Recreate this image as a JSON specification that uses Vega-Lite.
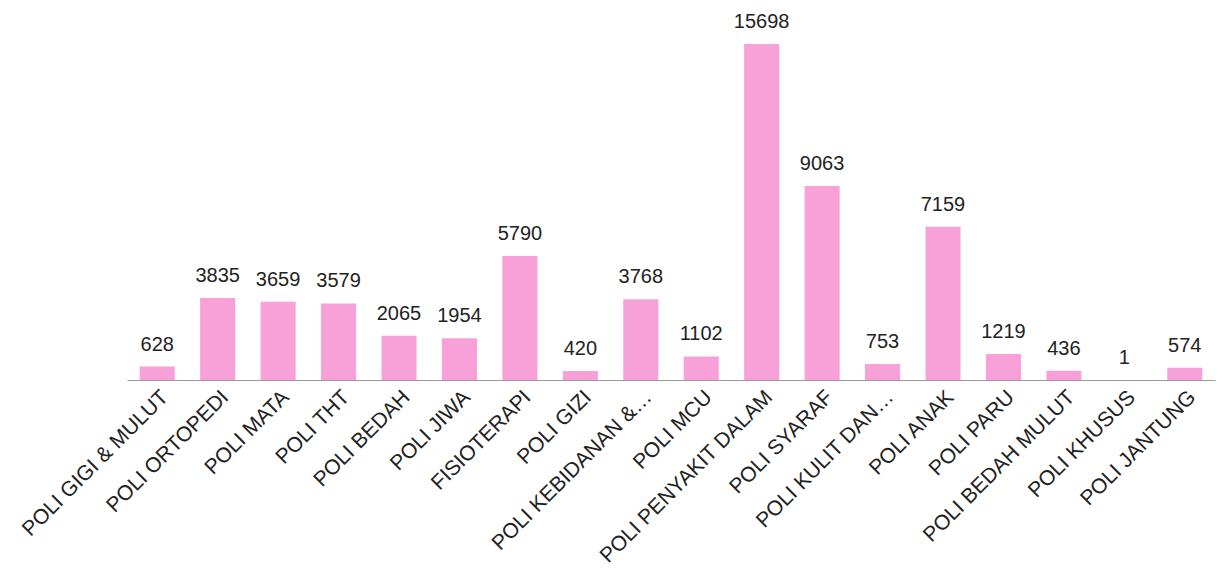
{
  "$schema": "https://vega.github.io/schema/vega-lite/v6.json",
  "autosize": "none",
  "width": 1088,
  "height": 336,
  "padding": {"left": 127, "top": 44, "right": 6, "bottom": 197},
  "background": "white",
  "config": {"view": {"stroke": null}, "font": "Liberation Sans"},
  "data": {"values": [
    {"poli": "POLI GIGI & MULUT", "n": 628},
    {"poli": "POLI ORTOPEDI", "n": 3835},
    {"poli": "POLI MATA", "n": 3659},
    {"poli": "POLI THT", "n": 3579},
    {"poli": "POLI BEDAH", "n": 2065},
    {"poli": "POLI JIWA", "n": 1954},
    {"poli": "FISIOTERAPI", "n": 5790},
    {"poli": "POLI GIZI", "n": 420},
    {"poli": "POLI KEBIDANAN &…", "n": 3768},
    {"poli": "POLI MCU", "n": 1102},
    {"poli": "POLI PENYAKIT DALAM", "n": 15698},
    {"poli": "POLI SYARAF", "n": 9063},
    {"poli": "POLI KULIT DAN…", "n": 753},
    {"poli": "POLI ANAK", "n": 7159},
    {"poli": "POLI PARU", "n": 1219},
    {"poli": "POLI BEDAH MULUT", "n": 436},
    {"poli": "POLI KHUSUS", "n": 1},
    {"poli": "POLI JANTUNG", "n": 574}
  ]},
  "encoding": {
    "x": {"field": "poli", "type": "nominal", "sort": null,
      "scale": {"paddingInner": 0.42, "paddingOuter": 0.21},
      "axis": {"title": null, "labelAngle": -45, "labelFontSize": 21, "labelColor": "#222", "ticks": false, "domainColor": "#999", "domainWidth": 1, "labelPadding": 6, "labelLimit": 0}},
    "y": {"field": "n", "type": "quantitative", "scale": {"domain": [0, 15698], "nice": false}, "axis": null}
  },
  "layer": [
    {"mark": {"type": "bar", "color": "#f7a1d8"}},
    {"mark": {"type": "text", "dy": -12, "baseline": "bottom", "fontSize": 20, "color": "#222"}, "encoding": {"text": {"field": "n", "type": "quantitative", "format": "d"}}}
  ]
}
